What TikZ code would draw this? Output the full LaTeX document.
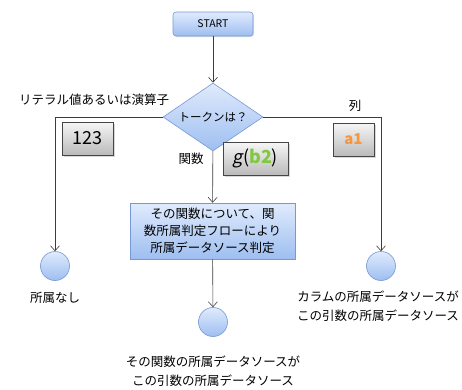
\documentclass[tikz,border=0pt]{standalone}
\usepackage{fontspec}
\setmainfont{Noto Sans CJK JP}[AutoFakeSlant=0.2]
\usetikzlibrary{arrows.meta,shapes.geometric,shadows}
\definecolor{blue_top}{RGB}{224,235,253}
\definecolor{blue_bottom}{RGB}{158,190,240}
\definecolor{blue_edge}{RGB}{118,152,212}
\definecolor{gray_top}{RGB}{246,246,246}
\definecolor{gray_bottom}{RGB}{186,186,186}
\definecolor{gray_edge}{RGB}{70,70,70}
\definecolor{line_gray}{RGB}{60,60,60}
\definecolor{col_orange}{RGB}{246,150,64}
\definecolor{arg_green}{RGB}{128,200,64}

\begin{document}
\begin{tikzpicture}[x=1pt,y=-1pt,semithick,draw=line_gray,>={Straight Barb[length=5pt,width=9pt]}]
    \tikzstyle{startbox}=[draw=blue_edge, rounded corners=3pt, top color=blue_top, bottom color=blue_bottom, minimum width=80pt, minimum height=24pt, font=\fontsize{10.5}{12}\selectfont, drop shadow={shadow xshift=1pt, shadow yshift=-1pt, opacity=0.25}]
    \tikzstyle{decide}=[draw=blue_edge, diamond, aspect=1.47, inner sep=0pt, minimum width=100pt, minimum height=68pt, top color=blue_top, bottom color=blue_bottom, font=\fontsize{11.5}{13}\selectfont]
    \tikzstyle{procbox}=[draw=blue_edge, top color=blue_top, bottom color=blue_bottom, minimum width=165pt, minimum height=56pt, align=center, font=\fontsize{12.5}{17}\selectfont, drop shadow={shadow xshift=1pt, shadow yshift=-1pt, opacity=0.25}]
    \tikzstyle{endpt}=[draw=blue_edge, circle, minimum size=29pt, inner sep=0pt, top color=blue_top, bottom color=blue_bottom]
    \tikzstyle{sample}=[draw=gray_edge, top color=gray_top, bottom color=gray_bottom, minimum height=33pt, inner sep=0pt, drop shadow={shadow xshift=1.5pt, shadow yshift=-1.5pt, opacity=0.3}]
    \tikzstyle{lbl}=[align=center, inner sep=0pt, font=\fontsize{12.5}{19}\selectfont]

    \useasboundingbox (0,0) rectangle (462,389);

    \node[startbox] (start) at (213,24)  {START};
    \node[decide]   (tok)   at (213,117) {トークンは？};
    \node[procbox]  (fn)    at (212.5,231) {その関数について、関\\数所属判定フローにより\\所属データソース判定};
    \node[endpt]    (lit)   at (55,266)  {};
    \node[endpt]    (col)   at (381,266) {};
    \node[endpt]    (fnend) at (213,322) {};

    \node[sample, minimum width=51pt] (ex_lit) at (87.5,138.5)  {\fontsize{18}{20}\selectfont 123};
    \node[sample, minimum width=65pt] (ex_fn)  at (255.5,158.5) {\fontsize{18}{20}\selectfont \textit{g}(\textcolor{arg_green}{\bfseries b2})};
    \node[sample, minimum width=41pt] (ex_col) at (353.5,139.5) {\fontsize{15}{17}\selectfont\bfseries\textcolor{col_orange}{a1}};

    \node[lbl] (lit_lbl)   at (94,100)  {リテラル値あるいは演算子};
    \node[lbl] (col_lbl)   at (355,106) {列};
    \node[lbl] (fn_lbl)    at (191,159) {関数};
    \node[lbl] (lit_note)  at (55,298)  {所属なし};
    \node[lbl] (col_note)  at (378,306) {カラムの所属データソースが\\この引数の所属データソース};
    \node[lbl] (fn_note)   at (213,371) {その関数の所属データソースが\\この引数の所属データソース};

    \path[->]
     (start) edge (tok)
     (tok)   edge (fn)
     (fn)    edge (fnend)
     ;
    \draw[->] (tok.west) -| (lit);
    \draw[->] (tok.east) -| (col);
\end{tikzpicture}
\end{document}
